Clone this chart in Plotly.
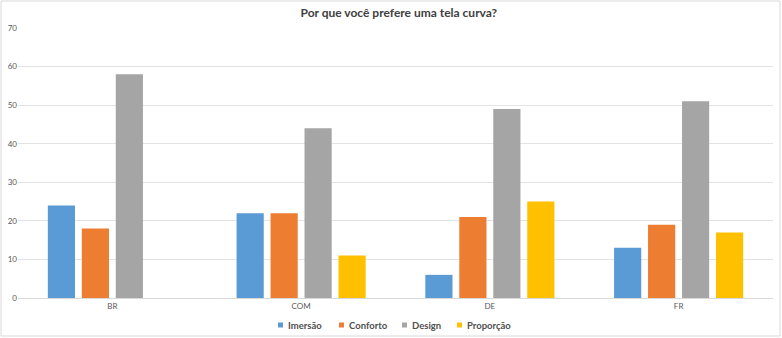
import plotly.graph_objects as go

categories = ["BR", "COM", "DE", "FR"]
imersao = [24, 22, 6, 13]
conforto = [18, 22, 21, 19]
design = [58, 44, 49, 51]
proporcao = [None, 11, 25, 17]
series_names = ["Imersão", "Conforto", "Design", "Proporção"]
colors = ["#5B9BD5", "#ED7D31", "#A5A5A5", "#FFC000"]
y_ticks = [0, 10, 20, 30, 40, 50, 60, 70]

W, H = 782, 338
ml, mr, mt, mb = 18, 9, 28, 40
pw, ph = W - ml - mr, H - mt - mb

fig = go.Figure()
for name, vals, col in zip(series_names, [imersao, conforto, design, proporcao], colors):
    fig.add_trace(go.Bar(x=categories, y=vals, name=name, showlegend=False,
                         marker=dict(color=col, line=dict(width=0))))

# custom compact legend (Excel style)
legend_x = [278, 339, 402, 457]
legend_y = 325
shapes = [dict(type="rect", xref="paper", yref="paper",
               x0=(1 - ml) / pw, x1=(780 - ml) / pw,
               y0=(mt + ph - 336) / ph, y1=(mt + ph - 1) / ph,
               line=dict(color="#d9d9d9", width=1))]
annotations = []
for name, col, lx in zip(series_names, colors, legend_x):
    shapes.append(dict(type="rect", xref="paper", yref="paper",
                       x0=(lx - ml) / pw, x1=(lx + 5 - ml) / pw,
                       y0=(mt + ph - legend_y - 2.5) / ph, y1=(mt + ph - legend_y + 2.5) / ph,
                       fillcolor=col, line=dict(width=0)))
    annotations.append(dict(text="<b>" + name + "</b>", xref="paper", yref="paper",
                            x=(lx + 8 - ml) / pw, y=(mt + ph - legend_y) / ph,
                            xanchor="left", yanchor="middle", showarrow=False,
                            font=dict(family="Lato", size=9.5, color="#505050")))

fig.update_layout(
    width=W, height=H,
    margin=dict(l=ml, r=mr, t=mt, b=mb, autoexpand=False),
    paper_bgcolor="white", plot_bgcolor="white",
    barmode="group", bargap=0.28, bargroupgap=0.2,
    showlegend=False,
    title=dict(text="<b>Por que você prefere uma tela curva?</b>", x=0.51, xanchor="center",
               y=1 - 13 / H, yanchor="middle",
               font=dict(family="Lato", size=12, color="#404040")),
    font=dict(family="Lato", color="#595959"),
    xaxis=dict(showgrid=False, tickfont=dict(size=8, color="#595959"), showline=True, linecolor="#d9d9d9",
               ticks="", ticklen=0),
    yaxis=dict(range=[0, 70], tickvals=y_ticks, showgrid=True, gridcolor="#e3e3e3", gridwidth=1,
               tickfont=dict(size=8, color="#595959"), zeroline=False, ticks="", ticklen=0),
    shapes=shapes,
    annotations=annotations,
)
fig.write_html("out.html")
